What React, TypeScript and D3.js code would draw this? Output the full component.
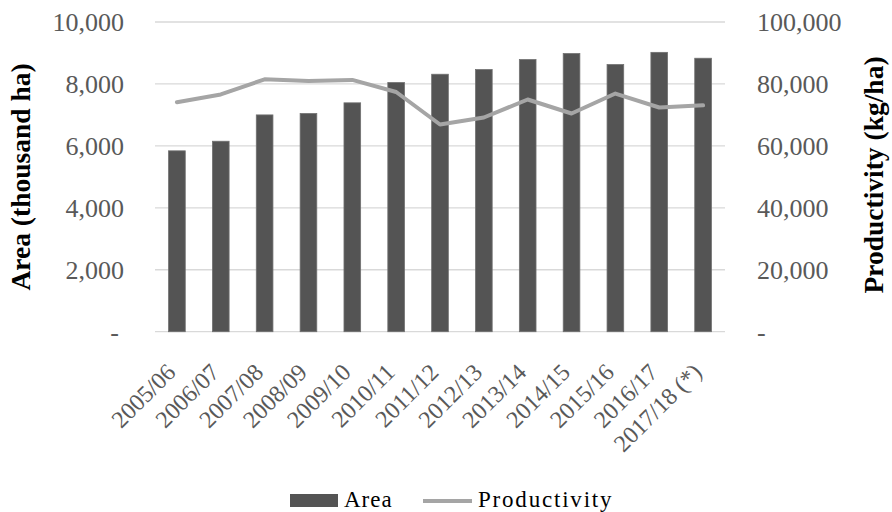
import React from "react";
import * as d3 from "d3";

const seasons = [
  "2005/06", "2006/07", "2007/08", "2008/09", "2009/10", "2010/11", "2011/12",
  "2012/13", "2013/14", "2014/15", "2015/16", "2016/17", "2017/18 (*)",
];
const areaValues = [5840, 6150, 7000, 7045, 7390, 8045, 8313, 8465, 8787, 8981, 8626, 9020, 8830];
const productivityValues = [74100, 76600, 81500, 80970, 81300, 77400, 66900, 69160, 74970, 70450, 76900, 72400, 73100];
const areaTicks = [0, 2000, 4000, 6000, 8000, 10000];
const productivityTicks = [0, 20000, 40000, 60000, 80000, 100000];

const W = 892;
const H = 512;
const left = 155;
const right = 725;
const top = 22;
const bottom = 331.7;
const FONT = "'Liberation Serif', 'Times New Roman', serif";

const fmt = (v: number) => (v === 0 ? "-" : d3.format(",")(v));

export default function App() {
  const x = d3.scaleBand<string>().domain(seasons).range([left, right]).paddingInner(0.62).paddingOuter(0.31);
  const yArea = d3.scaleLinear().domain([0, 10000]).range([bottom, top]);
  const yProd = d3.scaleLinear().domain([0, 100000]).range([bottom, top]);
  const center = (s: string) => (x(s) ?? 0) + x.bandwidth() / 2;

  const line = d3
    .line<number>()
    .x((_, i) => center(seasons[i]))
    .y((d) => yProd(d));

  return (
    <svg width={W} height={H} style={{ position: "absolute", left: 0, top: 0, background: "#fff" }}>
      {/* gridlines */}
      {areaTicks.map((t) => (
        <line key={t} x1={left} x2={right} y1={yArea(t)} y2={yArea(t)} stroke="#d9d9d9" strokeWidth={1.3} />
      ))}

      {/* bars */}
      {seasons.map((s, i) => (
        <rect
          key={s}
          x={x(s)}
          y={yArea(areaValues[i])}
          width={x.bandwidth()}
          height={bottom - yArea(areaValues[i])}
          fill="#545454"
          stroke="#707070"
          strokeWidth={0.8}
        />
      ))}

      {/* productivity line */}
      <path d={line(productivityValues) ?? ""} fill="none" stroke="#a5a5a5" strokeWidth={4} strokeLinejoin="round" strokeLinecap="round" />

      {/* left axis labels */}
      {areaTicks.map((t) => (
        <text
          key={t}
          x={t === 0 ? 119 : 124}
          y={yArea(t)}
          dy="0.35em"
          textAnchor="end"
          fontFamily={FONT}
          fontSize={26}
          fill="#595959"
        >
          {fmt(t)}
        </text>
      ))}

      {/* right axis labels */}
      {productivityTicks.map((t) => (
        <text
          key={t}
          x={757}
          y={yProd(t)}
          dy="0.35em"
          textAnchor="start"
          fontFamily={FONT}
          fontSize={26}
          fill="#595959"
        >
          {fmt(t)}
        </text>
      ))}

      {/* axis titles */}
      <text
        transform={`translate(30,177) rotate(-90)`}
        textAnchor="middle"
        fontFamily={FONT}
        fontSize={27.5}
        fontWeight="bold"
        fill="#000"
      >
        Area (thousand ha)
      </text>
      <text
        transform={`translate(883,175) rotate(-90)`}
        textAnchor="middle"
        fontFamily={FONT}
        fontSize={27.5}
        fontWeight="bold"
        fill="#000"
      >
        Productivity (kg/ha)
      </text>

      {/* category labels */}
      {seasons.map((s) => (
        <text
          key={s}
          transform={`translate(${center(s)},${bottom + 42}) rotate(-45)`}
          textAnchor="end"
          fontFamily={FONT}
          fontSize={24}
          fill="#595959"
        >
          {s}
        </text>
      ))}

      {/* legend */}
      <rect x={290} y={494} width={48} height={13} fill="#545454" />
      <text x={344} y={507} fontFamily={FONT} fontSize={23} letterSpacing={1} fill="#000">
        Area
      </text>
      <line x1={423} x2={472} y1={501} y2={501} stroke="#a5a5a5" strokeWidth={4} />
      <text x={478} y={507} fontFamily={FONT} fontSize={23} letterSpacing={1.8} fill="#000">
        Productivity
      </text>
    </svg>
  );
}
